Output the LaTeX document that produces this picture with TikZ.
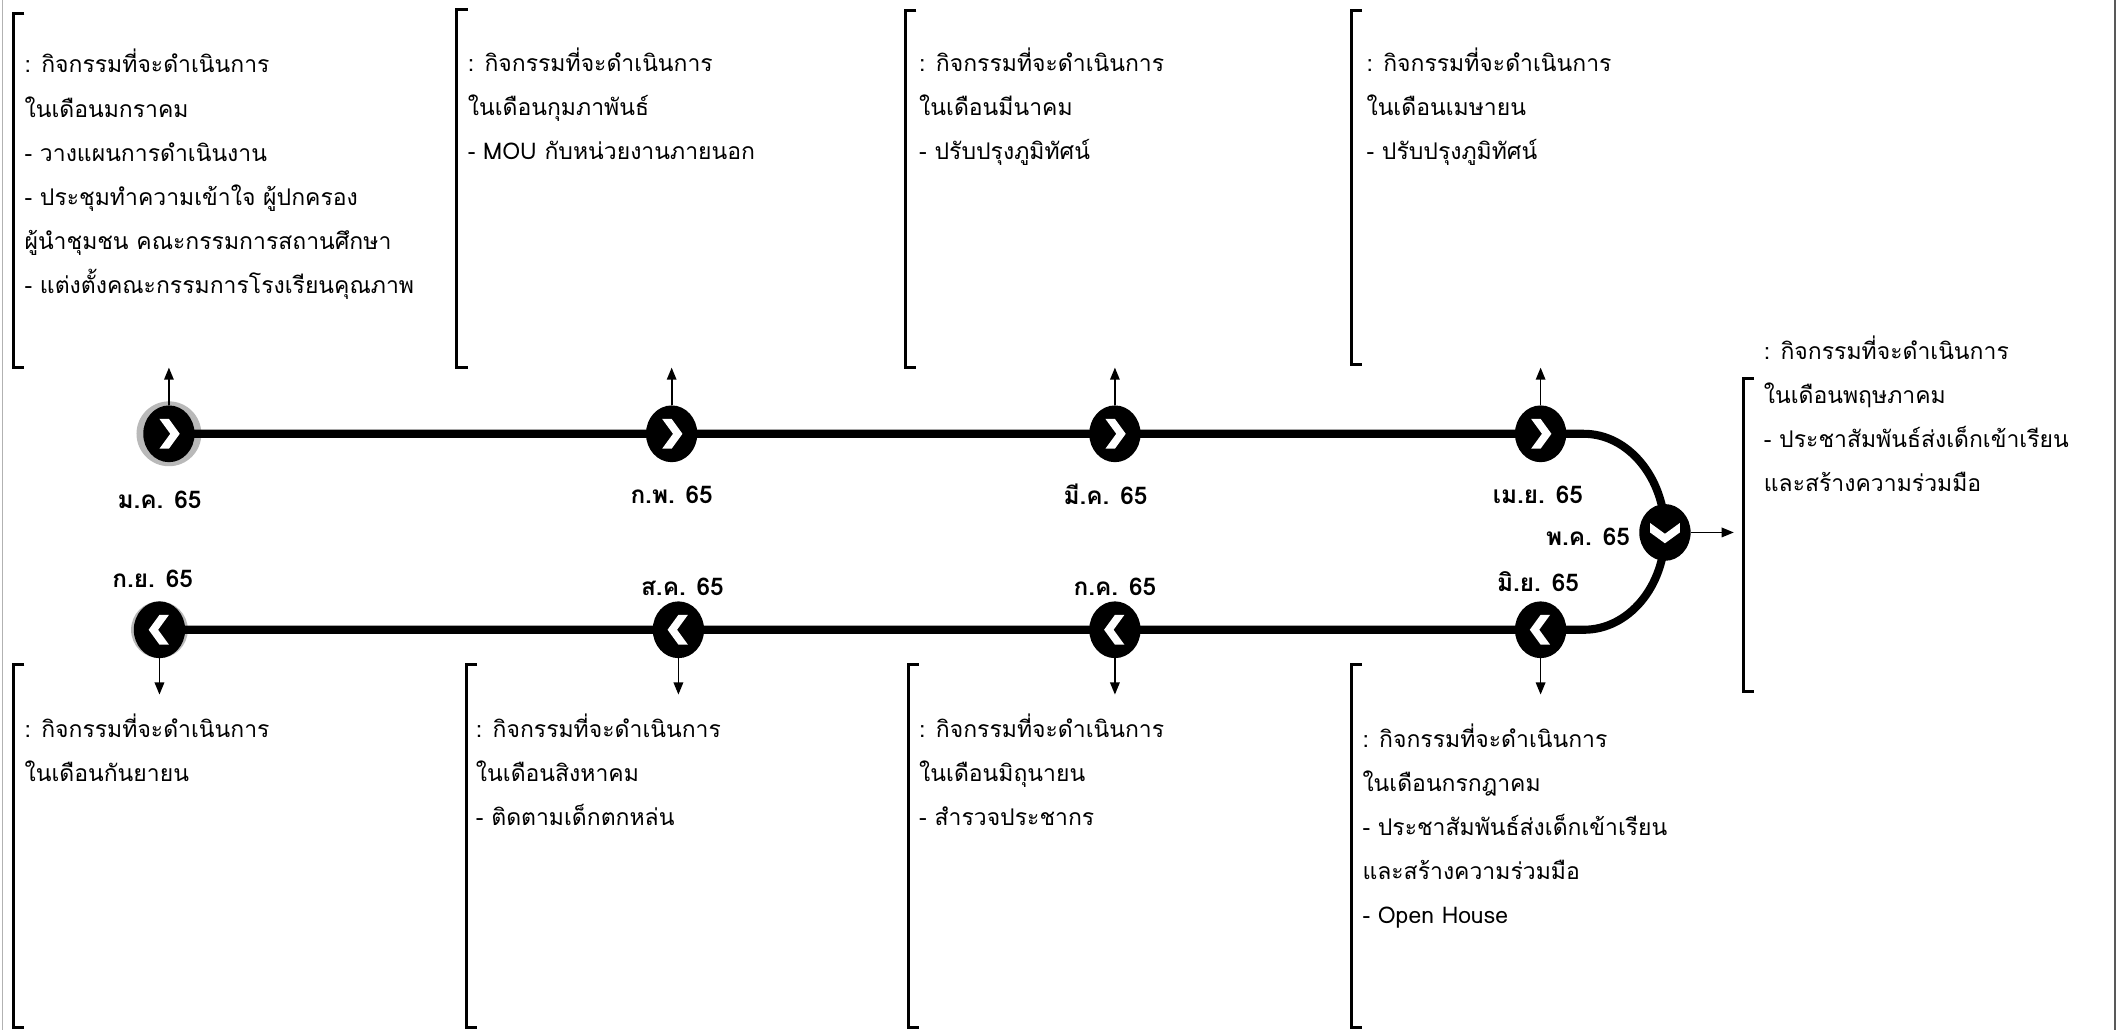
\documentclass[tikz,border=0pt]{standalone}
\usepackage{fontspec}
\setmainfont[Script=Thai]{Loma}
\usetikzlibrary{arrows.meta,shapes.geometric,backgrounds}
\tikzset{
 x=1pt, y=-1pt,
 txt/.style={font=\fontsize{17}{20}\selectfont, inner sep=0pt, anchor=base west},
 mon/.style={font=\bfseries\fontsize{18}{20}\selectfont, inner sep=0pt},
 dot/.style={ellipse, fill=black, minimum width=38pt, minimum height=42pt, inner sep=0pt},
 halo/.style={fill=gray!55},
 tl/.style={line width=6pt},
 brk/.style={line width=2.2pt},
 arr/.style={line width=1.3pt, -{Triangle[length=9pt,width=7pt]}},
 chev/.style={fill=white},
 edge/.style={line width=1pt, black!65},
}
\newcommand\chevR[1]{\fill[chev] ([shift={(-7,-11)}]#1.center) -- ([shift={(0,-11)}]#1.center) -- ([shift={(8,0)}]#1.center) -- ([shift={(0,11)}]#1.center) -- ([shift={(-7,11)}]#1.center) -- ([shift={(1,0)}]#1.center) -- cycle;}
\newcommand\chevL[1]{\fill[chev] ([shift={(7,-11)}]#1.center) -- ([shift={(0,-11)}]#1.center) -- ([shift={(-8,0)}]#1.center) -- ([shift={(0,11)}]#1.center) -- ([shift={(7,11)}]#1.center) -- ([shift={(-1,0)}]#1.center) -- cycle;}
\newcommand\chevD[1]{\fill[chev] ([shift={(-11,-7)}]#1.center) -- ([shift={(-11,0)}]#1.center) -- ([shift={(0,8)}]#1.center) -- ([shift={(11,0)}]#1.center) -- ([shift={(11,-7)}]#1.center) -- ([shift={(0,1)}]#1.center) -- cycle;}
\newcommand\brkt[3]{\draw[brk] ({#1+8},#2) -- (#1,#2) -- (#1,#3) -- ({#1+8},#3);}
\newcommand\blk[4]{\foreach \t [count=\i] in {#4} {\node[txt] (#1-\i) at ({#2},{#3+6+(\i-1)*32.6}) {\t};}}
\begin{document}
\begin{tikzpicture}
\useasboundingbox (0,0) rectangle (1568,762);
\draw[edge] (1565,0) -- (1565,762);
\draw[line width=0.6pt, black!30] (1.5,0) -- (1.5,762);
% dots
\node[dot] (jan) at (125,321) {};
\node[dot] (feb) at (497,321) {};
\node[dot] (mar) at (825,321) {};
\node[dot] (apr) at (1140,321) {};
\node[dot] (may) at (1232,394) {};
\node[dot] (jun) at (1140,466) {};
\node[dot] (jul) at (825,466) {};
\node[dot] (aug) at (502,466) {};
\node[dot] (sep) at (118,466) {};
\coordinate (c1) at (1172,321);
\coordinate (c2) at (1172,466);
\begin{scope}[on background layer]
\fill[white] (0,0) rectangle (1568,762);
\fill[halo] (125,321) circle[radius=24];
\fill[halo] (118,466) circle[radius=21];
\draw[tl] (jan.center) -- (feb.center) -- (mar.center) -- (apr.center) -- (c1)
  .. controls (1205,321) and (1232,354) .. (may.center)
  .. controls (1232,434) and (1205,466) .. (c2) -- (jun.center) -- (jul.center) -- (aug.center) -- (sep.center);
\end{scope}
\chevR{jan}\chevR{feb}\chevR{mar}\chevR{apr}
\chevD{may}
\chevL{jun}\chevL{jul}\chevL{aug}\chevL{sep}
% arrows
\coordinate (jan-t) at (125,272);
\coordinate (feb-t) at (497,272);
\coordinate (mar-t) at (825,272);
\coordinate (apr-t) at (1140,272);
\coordinate (may-t) at (1283,394);
\coordinate (jun-t) at (1140,514);
\coordinate (jul-t) at (825,514);
\coordinate (aug-t) at (502,514);
\coordinate (sep-t) at (118,514);
\foreach \m in {jan,feb,mar,apr} {\draw[arr] (\m.north) -- (\m-t);}
\foreach \m in {jun,jul,aug,sep} {\draw[arr] (\m.south) -- (\m-t);}
\draw[arr] (may.east) -- (may-t);
% month labels
\node[mon] (l-jan) at (118,370) {ม.ค. 65};
\node[mon] (l-feb) at (497,366) {ก.พ. 65};
\node[mon] (l-mar) at (818,366) {มี.ค. 65};
\node[mon] (l-apr) at (1138,366) {เม.ย. 65};
\node[mon] (l-may) at (1175,397) {พ.ค. 65};
\node[mon] (l-jun) at (1138,430) {มิ.ย. 65};
\node[mon] (l-jul) at (825,434) {ก.ค. 65};
\node[mon] (l-aug) at (505,434) {ส.ค. 65};
\node[mon] (l-sep) at (113,428) {ก.ย. 65};
% brackets
\brkt{10}{10}{272}
\brkt{338}{7}{272}
\brkt{670}{8}{272}
\brkt{1000}{8}{270}
\brkt{1290}{280}{512}
\brkt{10}{492}{760}
\brkt{345}{492}{760}
\brkt{672}{492}{760}
\brkt{1000}{492}{760}
% texts
\blk{tjan}{18}{48}{: กิจกรรมที่จะดำเนินการ, ในเดือนมกราคม, - วางแผนการดำเนินงาน, - ประชุมทำความเข้าใจ ผู้ปกครอง, ผู้นำชุมชน คณะกรรมการสถานศึกษา, - แต่งตั้งคณะกรรมการโรงเรียนคุณภาพ}
\blk{tfeb}{346}{47}{: กิจกรรมที่จะดำเนินการ, ในเดือนกุมภาพันธ์, - MOU กับหน่วยงานภายนอก}
\blk{tmar}{680}{47}{: กิจกรรมที่จะดำเนินการ, ในเดือนมีนาคม, - ปรับปรุงภูมิทัศน์}
\blk{tapr}{1011}{47}{: กิจกรรมที่จะดำเนินการ, ในเดือนเมษายน, - ปรับปรุงภูมิทัศน์}
\blk{tmay}{1305}{260}{: กิจกรรมที่จะดำเนินการ, ในเดือนพฤษภาคม, - ประชาสัมพันธ์ส่งเด็กเข้าเรียน, และสร้างความร่วมมือ}
\blk{tsep}{18}{540}{: กิจกรรมที่จะดำเนินการ, ในเดือนกันยายน}
\blk{taug}{352}{540}{: กิจกรรมที่จะดำเนินการ, ในเดือนสิงหาคม, - ติดตามเด็กตกหล่น}
\blk{tjul}{680}{540}{: กิจกรรมที่จะดำเนินการ, ในเดือนมิถุนายน, - สำรวจประชากร}
\blk{tjun}{1008}{547}{: กิจกรรมที่จะดำเนินการ, ในเดือนกรกฎาคม, - ประชาสัมพันธ์ส่งเด็กเข้าเรียน, และสร้างความร่วมมือ, - Open House}
\end{tikzpicture}
\end{document}
